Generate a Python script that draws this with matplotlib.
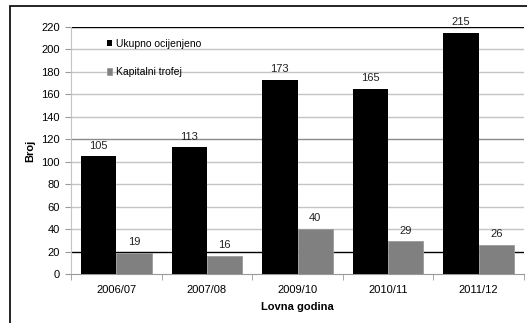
import matplotlib
matplotlib.use("Agg")
import matplotlib.pyplot as plt
import numpy as np

plt.rcParams['font.family'] = ['Liberation Sans', 'DejaVu Sans']

seasons = ['2006/07', '2007/08', '2009/10', '2010/11', '2011/12']
ukupno = [105, 113, 173, 165, 215]
trofej = [19, 16, 40, 29, 26]

fig = plt.figure(figsize=(5.27, 3.23), dpi=100)
ax = fig.add_axes([71/527, 1 - 274/323, 453/527, 247/323])

# chart border
fig.patches.append(plt.Rectangle((10/527, -0.1), 1.2, 1 - 6/323 + 0.1, transform=fig.transFigure,
                                 fill=False, edgecolor='black', linewidth=1.2))

x = np.arange(len(seasons))
w = 0.39
b1 = ax.bar(x - w/2, ukupno, w, color='black', label='Ukupno ocijenjeno', zorder=3)
b2 = ax.bar(x + w/2, trofej, w, color='#808080', edgecolor='#9a9a9a', linewidth=0.6,
            label='Kapitalni trofej', zorder=3)

for rect, v in zip(list(b1) + list(b2), ukupno + trofej):
    ax.text(rect.get_x() + rect.get_width()/2, v + 5, str(v), ha='center', va='bottom',
            fontsize=8, color='#222222')

ax.set_xlim(-0.5, len(seasons) - 0.5)
ax.set_ylim(0, 220)
ax.set_yticks(range(0, 221, 20))
for yv in range(20, 221, 20):
    col = '#c4c4c4'
    if yv in (20, 220):
        col = 'black'
    elif yv == 120:
        col = '#8a8a8a'
    ax.axhline(yv, color=col, linewidth=1, zorder=1)

ax.set_xticks(x)
ax.set_xticklabels(seasons)
ax.set_xticks(np.arange(-0.5, len(seasons), 1), minor=True)
ax.tick_params(axis='x', which='major', length=0, pad=8, labelsize=8)
ax.tick_params(axis='x', which='minor', length=4, color='#999999')
ax.tick_params(axis='y', length=4, color='#999999', labelsize=8, pad=4)

for s in ['top', 'right']:
    ax.spines[s].set_visible(False)
ax.spines['left'].set_color('#c4c4c4')
ax.spines['bottom'].set_color('#999999')

ax.set_xlabel('Lovna godina', fontsize=8, fontweight='bold', labelpad=5)
ax.set_ylabel('Broj', fontsize=8, fontweight='bold', labelpad=4)

ax.legend(loc='upper left', bbox_to_anchor=(0.058, 0.99), frameon=False, fontsize=7.5,
          handlelength=0.55, handleheight=0.55, handletextpad=0.35, labelspacing=1.75)

fig.savefig('out.png', dpi=100)
